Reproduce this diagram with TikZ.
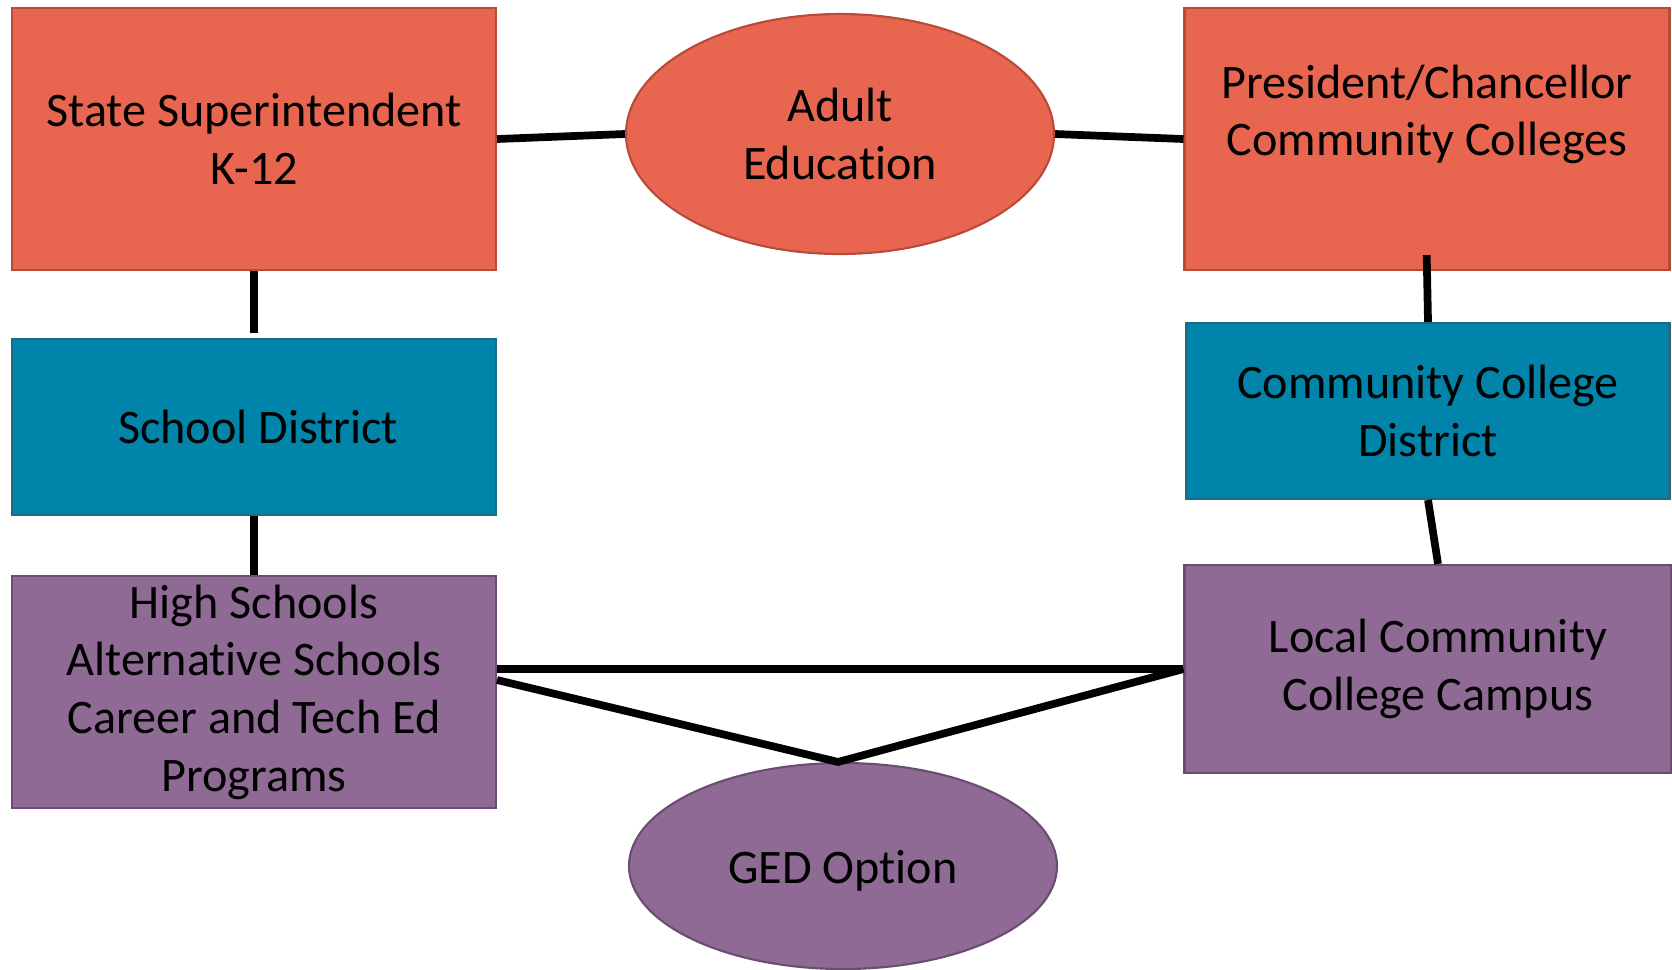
\documentclass[tikz,border=0pt]{standalone}
\usepackage{fontspec}
\setmainfont[Ligatures=NoCommon]{Carlito}
\usepackage{xcolor}
\usepackage{tikz}
\usetikzlibrary{shapes.geometric, positioning}
\definecolor{leadcoral}{HTML}{E86550}
\definecolor{leadcoraledge}{HTML}{B84A3A}
\definecolor{districtteal}{HTML}{0084A9}
\definecolor{districttealedge}{HTML}{1E6A85}
\definecolor{campusplum}{HTML}{8E6A94}
\definecolor{campusplumedge}{HTML}{6A4E70}

\tikzset{
    orgbox/.style={rectangle, draw, line width=0.6pt, align=center, inner sep=2pt},
    orgoval/.style={ellipse, draw, line width=0.6pt, align=center, inner sep=0pt},
    link/.style={black, line width=2.2pt}
}

\begin{document}
\begin{tikzpicture}[font=\fontsize{13.7pt}{16.4pt}\selectfont]
    \useasboundingbox (0,0) rectangle (16.72,-9.69);

    % Top row (state level)
    \node[orgbox, fill=leadcoral, draw=leadcoraledge, minimum width=4.84cm, minimum height=2.62cm] (super) at (2.54,-1.39) {State Superintendent\\K-12};
    \node[orgoval, fill=leadcoral, draw=leadcoraledge, minimum width=4.28cm, minimum height=2.40cm] (adulted) at (8.40,-1.34) {Adult\\Education};
    \node[orgbox, fill=leadcoral, draw=leadcoraledge, minimum width=4.85cm, minimum height=2.62cm] (chancellor) at (14.27,-1.39) {President/Chancellor\\Community Colleges\\\mbox{}};

    % Middle row (districts)
    \node[orgbox, fill=districtteal, draw=districttealedge, minimum width=4.84cm, minimum height=1.76cm] (schooldist) at (2.54,-4.27) {\hspace{0.08cm}School District};
    \node[orgbox, fill=districtteal, draw=districttealedge, minimum width=4.83cm, minimum height=1.76cm] (ccdist) at (14.28,-4.11) {Community College\\District};

    % Bottom row (local)
    \node[orgbox, fill=campusplum, draw=campusplumedge, minimum width=4.84cm, minimum height=2.32cm] (highschools) at (2.54,-6.92) {High Schools\\Alternative Schools\\Career and Tech Ed\\Programs};
    \node[orgbox, fill=campusplum, draw=campusplumedge, minimum width=4.87cm, minimum height=2.08cm] (campus) at (14.28,-6.69) {\hspace{0.2cm}Local Community\\\hspace{0.2cm}College Campus};
    \node[orgoval, fill=campusplum, draw=campusplumedge, minimum width=4.28cm, minimum height=2.06cm, text height=0.42cm] (ged) at (8.43,-8.66) {GED Option};

    % Connectors
    \draw[link] (super.east) -- (adulted.west);
    \draw[link] (adulted.east) -- (chancellor.west);
    \draw[link, shorten >=0.05cm] (super.south) -- (schooldist.north);
    \draw[link] (schooldist.south) -- (highschools.north);
    \draw[link, shorten <=-0.16cm] (chancellor.south) -- (ccdist.north);
    \draw[link] (ccdist.south) -- ([xshift=0.1cm]campus.north);
    \draw[link] (highschools.east |- campus.west) -- (campus.west);
    \draw[link] ([yshift=0.12cm]highschools.east) -- ([xshift=-0.05cm]ged.north) -- (campus.west);
\end{tikzpicture}
\end{document}
